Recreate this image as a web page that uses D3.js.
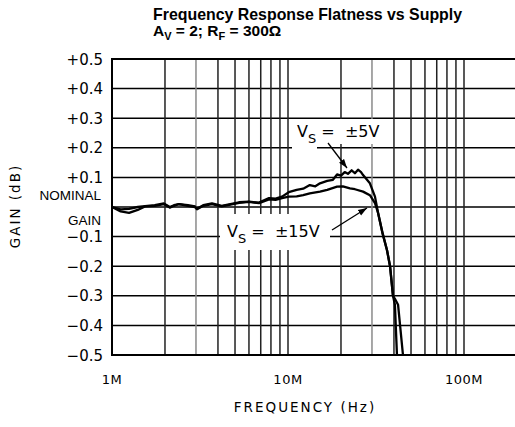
<!DOCTYPE html>
<html>
<head>
<meta charset="utf-8">
<script src="https://cdn.jsdelivr.net/npm/d3@7"></script>
<style>
  body { margin: 0; background: #fff; }
  svg { display: block; }
</style>
</head>
<body>
<svg id="chart"></svg>
<script>
const w = 515;
const h = 427;

// frequency in MHz, gain in dB
const freq5 = [1.0, 1.12, 1.25, 1.4, 1.54, 1.75, 1.97, 2.13, 2.25, 2.4, 2.7, 2.96, 3.04, 3.3, 3.7, 4.2, 4.7, 5.27, 6.0, 6.84, 7.8, 8.5, 9.25, 10.1, 11.2, 12.2, 13.3, 14.3, 15.2, 16.7, 18.0, 19.0, 20.0, 21.0, 21.9, 23.0, 24.0, 25.0, 26.0, 26.7, 29.2, 31.2, 32.5, 34.5, 36.5, 38.0, 39.5, 40.5, 41.6];
const gain5 = [0.000, -0.008, -0.006, 0.000, 0.003, 0.006, 0.012, 0.000, 0.006, 0.010, 0.006, 0.002, -0.006, 0.006, 0.012, 0.004, 0.010, 0.016, 0.018, 0.015, 0.030, 0.028, 0.035, 0.050, 0.058, 0.062, 0.074, 0.070, 0.080, 0.088, 0.092, 0.110, 0.106, 0.118, 0.112, 0.124, 0.114, 0.126, 0.118, 0.108, 0.080, 0.035, -0.020, -0.090, -0.145, -0.200, -0.300, -0.330, -0.500];

const freq15 = [1.0, 1.12, 1.25, 1.4, 1.54, 1.75, 1.97, 2.13, 2.25, 2.4, 2.7, 2.96, 3.04, 3.3, 3.7, 4.2, 4.7, 5.27, 6.0, 6.84, 7.8, 8.5, 9.25, 10.1, 11.2, 12.2, 13.3, 15.2, 16.7, 19.0, 20.5, 22.5, 24.0, 26.7, 29.2, 31.2, 32.5, 34.5, 36.5, 38.0, 39.5, 40.5, 42.2, 45.0];
const gain15 = [0.000, -0.015, -0.020, -0.010, 0.002, 0.004, 0.010, -0.002, 0.004, 0.010, 0.004, 0.000, -0.008, 0.004, 0.010, 0.002, 0.008, 0.014, 0.017, 0.013, 0.026, 0.024, 0.030, 0.035, 0.036, 0.040, 0.046, 0.052, 0.058, 0.069, 0.070, 0.063, 0.060, 0.052, 0.040, 0.013, -0.020, -0.090, -0.145, -0.200, -0.300, -0.310, -0.330, -0.500];

const yTicks = [0.5, 0.4, 0.3, 0.2, 0.1, -0.1, -0.2, -0.3, -0.4, -0.5];
const yTickLabels = ['+0.5', '+0.4', '+0.3', '+0.2', '+0.1', '\u22120.1', '\u22120.2', '\u22120.3', '\u22120.4', '\u22120.5'];
const xGrid = [2, 3, 4, 5, 6, 7, 8, 9, 10, 20, 30, 40, 50, 60, 70, 80, 90, 100];
const xTicks = [1, 10, 100];
const xTickLabels = ['1M', '10M', '100M'];

const svg = d3.select('#chart').attr('width', w).attr('height', h);

const x = d3.scaleLog().domain([1, 200]).range([112, 112 + 176 * Math.log10(200)]);
const y = d3.scaleLinear().domain([-0.5, 0.5]).range([355, 59]);

// grid
svg.selectAll('line.hgrid')
  .data(yTicks.filter(v => Math.abs(v) < 0.5).concat([0]))
  .enter().append('line')
  .attr('x1', x(1)).attr('x2', w)
  .attr('y1', d => y(d)).attr('y2', d => y(d))
  .attr('stroke', '#000').attr('stroke-width', 1.5);

svg.selectAll('line.vgrid')
  .data(xGrid)
  .enter().append('line')
  .attr('x1', d => x(d)).attr('x2', d => x(d))
  .attr('y1', y(0.5)).attr('y2', y(-0.5))
  .attr('stroke', d => (d === 3 || d === 30) ? '#8a8a8a' : '#222')
  .attr('stroke-width', 1.5);

// white boxes behind the notes
svg.append('rect').attr('x', 290).attr('y', 119).attr('width', 92).attr('height', 25).attr('fill', '#fff');
svg.append('rect').attr('x', 292).attr('y', 140).attr('width', 25).attr('height', 10).attr('fill', '#fff');
svg.append('rect').attr('x', 220).attr('y', 214).attr('width', 110).attr('height', 36).attr('fill', '#fff');

// frame
svg.append('path')
  .attr('d', `M${w},${y(0.5)}H${x(1)}V${y(-0.5)}H${w}`)
  .attr('fill', 'none').attr('stroke', '#000').attr('stroke-width', 2);

// curves
const line = d3.line().x(d => x(d[0])).y(d => y(d[1]));
[[freq5, gain5], [freq15, gain15]].forEach(([f, g]) => {
  svg.append('path')
    .datum(f.map((v, i) => [v, g[i]]))
    .attr('d', line)
    .attr('fill', 'none').attr('stroke', '#000')
    .attr('stroke-width', 2.3).attr('stroke-linejoin', 'round');
});

// y tick labels
svg.selectAll('text.ytick')
  .data(yTicks)
  .enter().append('text')
  .attr('x', 103).attr('y', d => y(d) + 5.5)
  .attr('text-anchor', 'end')
  .attr('font-family', 'DejaVu Sans').attr('font-size', 15)
  .text((d, i) => yTickLabels[i]);

svg.append('text').attr('x', 101).attr('y', 200).attr('text-anchor', 'end')
  .attr('font-family', 'Liberation Sans').attr('font-size', 13.5).text('NOMINAL');
svg.append('text').attr('x', 101).attr('y', 225).attr('text-anchor', 'end')
  .attr('font-family', 'Liberation Sans').attr('font-size', 13.5).text('GAIN');

// x tick labels
svg.selectAll('text.xtick')
  .data(xTicks)
  .enter().append('text')
  .attr('x', d => x(d)).attr('y', 384)
  .attr('text-anchor', 'middle')
  .attr('font-family', 'DejaVu Sans').attr('font-size', 13)
  .attr('letter-spacing', 0.5)
  .text((d, i) => xTickLabels[i]);

// axis titles
svg.append('text').attr('x', 305).attr('y', 412).attr('text-anchor', 'middle')
  .attr('font-family', 'DejaVu Sans').attr('font-size', 13.5).attr('letter-spacing', 2)
  .text('FREQUENCY (Hz)');
svg.append('text')
  .attr('transform', 'translate(20,206) rotate(-90)')
  .attr('text-anchor', 'middle')
  .attr('font-family', 'DejaVu Sans').attr('font-size', 13.5).attr('letter-spacing', 2)
  .text('GAIN (dB)');

// title
svg.append('text').attr('x', 153).attr('y', 19.5)
  .attr('font-family', 'Liberation Sans').attr('font-weight', 'bold').attr('font-size', 15.9)
  .text('Frequency Response Flatness vs Supply');
const t2 = svg.append('text').attr('x', 153).attr('y', 36)
  .attr('font-family', 'Liberation Sans').attr('font-weight', 'bold').attr('font-size', 15.5);
t2.append('tspan').text('A');
t2.append('tspan').attr('dy', 4).attr('font-size', 11).text('V');
t2.append('tspan').attr('dy', -4).text(' = 2; R');
t2.append('tspan').attr('dy', 4).attr('font-size', 11).text('F');
t2.append('tspan').attr('dy', -4).text(' = 300\u03a9');

// notes
function note(x0, y0, big) {
  const t = svg.append('text').attr('x', x0).attr('y', y0)
    .attr('font-family', 'DejaVu Sans').attr('font-size', 16);
  t.append('tspan').text('V');
  t.append('tspan').attr('dy', 6).attr('font-size', 13).text('S');
  t.append('tspan').attr('dy', -6).attr('xml:space', 'preserve').text(' =  \u00b1' + big);
}
note(297, 137, '5V');
note(227, 237, '15V');

// arrows
svg.append('defs').append('marker')
  .attr('id', 'arr').attr('viewBox', '0 0 10 10').attr('refX', 10).attr('refY', 5)
  .attr('markerWidth', 9).attr('markerHeight', 9).attr('orient', 'auto')
  .attr('markerUnits', 'userSpaceOnUse')
  .append('path').attr('d', 'M0,1.5L10,5L0,8.5Z').attr('fill', '#000');

svg.append('line').attr('x1', 328).attr('y1', 143).attr('x2', 347).attr('y2', 168)
  .attr('stroke', '#000').attr('stroke-width', 1.3).attr('marker-end', 'url(#arr)');
svg.append('line').attr('x1', 332).attr('y1', 230).attr('x2', 367).attr('y2', 208)
  .attr('stroke', '#000').attr('stroke-width', 1.3).attr('marker-end', 'url(#arr)');
</script>
</body>
</html>
